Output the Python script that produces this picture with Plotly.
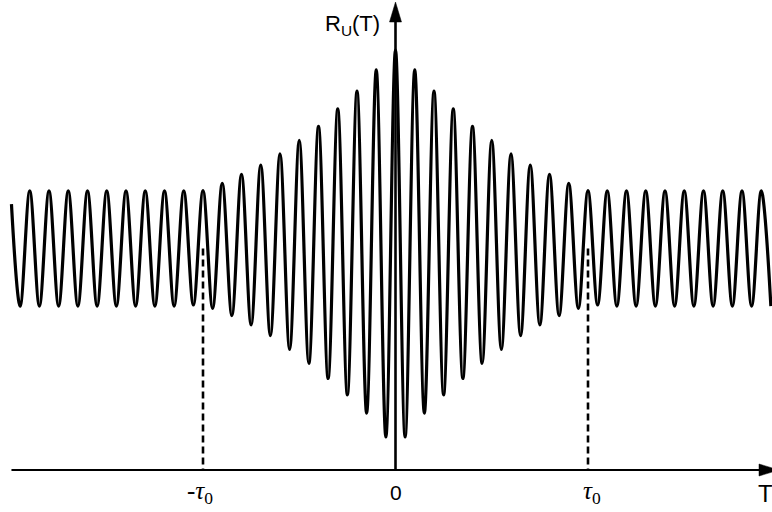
import plotly.graph_objects as go

# ---- data -----------------------------------------------------------------
# positions of the curve's extrema (in units of tau0) and the value of R_U there
tau_points = [-1.995,
              -1.95, -1.90, -1.85, -1.80, -1.75, -1.70, -1.65, -1.60, -1.55, -1.50,
              -1.45, -1.40, -1.35, -1.30, -1.25, -1.20, -1.15, -1.10, -1.05, -1.00,
              -0.95, -0.90, -0.85, -0.80, -0.75, -0.70, -0.65, -0.60, -0.55, -0.50,
              -0.45, -0.40, -0.35, -0.30, -0.25, -0.20, -0.15, -0.10, -0.05, 0.00,
              0.05, 0.10, 0.15, 0.20, 0.25, 0.30, 0.35, 0.40, 0.45, 0.50,
              0.55, 0.60, 0.65, 0.70, 0.75, 0.80, 0.85, 0.90, 0.95, 1.00,
              1.05, 1.10, 1.15, 1.20, 1.25, 1.30, 1.35, 1.40, 1.45, 1.50,
              1.55, 1.60, 1.65, 1.70, 1.75, 1.80, 1.85, 1.90, 1.95]
r_points = [1.20,
            0.74, 1.26, 0.74, 1.26, 0.74, 1.26, 0.74, 1.26, 0.74, 1.26,
            0.74, 1.26, 0.74, 1.26, 0.74, 1.26, 0.74, 1.26, 0.745, 1.261,
            0.730, 1.294, 0.697, 1.335, 0.655, 1.377, 0.607, 1.427, 0.544, 1.488,
            0.481, 1.551, 0.413, 1.630, 0.339, 1.711, 0.257, 1.806, 0.149, 1.896,
            0.149, 1.806, 0.257, 1.711, 0.339, 1.630, 0.413, 1.551, 0.481, 1.488,
            0.544, 1.427, 0.607, 1.377, 0.655, 1.335, 0.697, 1.294, 0.730, 1.261,
            0.745, 1.26, 0.74, 1.26, 0.74, 1.26, 0.74, 1.26, 0.74, 1.26,
            0.74, 1.26, 0.74, 1.26, 0.74, 1.26, 0.74, 1.26, 0.74]

tau0 = 1.0            # the two dashed markers at -tau0 and +tau0
mean_level = 1.0      # level of R_U where the dashed markers start
marker_taus = [-tau0, tau0]
tick_labels = ["-<i>τ</i><sub>0</sub>", "0", "<i>τ</i><sub>0</sub>"]

# ---- layout geometry ------------------------------------------------------
W, H = 772, 512
X0_PX, PX_PER_TAU = 395.5, 192.5
Y0_PX, PX_PER_R = 470.0, 221.5
x_range = [-X0_PX / PX_PER_TAU, (W - X0_PX) / PX_PER_TAU]
y_range = [-(H - Y0_PX) / PX_PER_R, Y0_PX / PX_PER_R]

fig = go.Figure()

fig.add_trace(go.Scatter(
    x=tau_points, y=r_points, mode="lines",
    line=dict(color="black", width=3.2, shape="spline", smoothing=1),
    hoverinfo="skip", showlegend=False))

for t in marker_taus:
    fig.add_trace(go.Scatter(
        x=[t, t], y=[mean_level, 0], mode="lines",
        line=dict(color="black", width=2.6, dash="7px,4px"),
        hoverinfo="skip", showlegend=False))

x_axis_start = tau_points[0]
x_head_base = (759 - X0_PX) / PX_PER_TAU
y_head_base = (Y0_PX - 22) / PX_PER_R

shapes = [
    dict(type="line", xref="x", yref="y", x0=x_axis_start, x1=x_head_base, y0=0, y1=0,
         line=dict(color="black", width=2.2)),
    dict(type="line", xref="x", yref="y", x0=0, x1=0, y0=0, y1=y_head_base,
         line=dict(color="black", width=2.6)),
    dict(type="path", xref="x", yref="y", xsizemode="pixel", ysizemode="pixel",
         xanchor=x_head_base, yanchor=0, path="M0,-6 L0,6 L20,0 Z",
         fillcolor="black", line=dict(color="black", width=0.5)),
    dict(type="path", xref="x", yref="y", xsizemode="pixel", ysizemode="pixel",
         xanchor=0, yanchor=y_head_base, path="M-6,0 L6,0 L0,20 Z",
         fillcolor="black", line=dict(color="black", width=0.5)),
]

label_y = -22 / PX_PER_R
annotations = [
    dict(x=0, y=(Y0_PX - 25) / PX_PER_R, xref="x", yref="y", text="R<sub>U</sub>(T)",
         showarrow=False, xanchor="right", yanchor="middle", xshift=-14,
         font=dict(family="Liberation Sans, Arial, sans-serif", size=22, color="black")),
    dict(x=-tau0, y=label_y, xref="x", yref="y", text=tick_labels[0], showarrow=False,
         xanchor="center", yanchor="middle", xshift=-3,
         font=dict(family="Liberation Serif, Times New Roman, serif", size=25, color="black")),
    dict(x=0, y=label_y, xref="x", yref="y", text=tick_labels[1], showarrow=False,
         xanchor="center", yanchor="middle",
         font=dict(family="Liberation Sans, Arial, sans-serif", size=21, color="black")),
    dict(x=tau0, y=label_y, xref="x", yref="y", text=tick_labels[2], showarrow=False,
         xanchor="center", yanchor="middle", xshift=4,
         font=dict(family="Liberation Serif, Times New Roman, serif", size=25, color="black")),
    dict(x=(756 - X0_PX) / PX_PER_TAU, y=-23 / PX_PER_R, xref="x", yref="y", text="T",
         showarrow=False, xanchor="left", yanchor="middle",
         font=dict(family="Liberation Sans, Arial, sans-serif", size=24, color="black")),
]

fig.update_layout(
    width=W, height=H, margin=dict(l=0, r=0, t=0, b=0),
    paper_bgcolor="white", plot_bgcolor="white",
    xaxis=dict(range=x_range, visible=False, fixedrange=True),
    yaxis=dict(range=y_range, visible=False, fixedrange=True),
    shapes=shapes, annotations=annotations, showlegend=False,
)

fig.write_html("out.html", config={"displayModeBar": False},
               post_script="document.body.style.margin='0px';document.body.style.overflow='hidden';")
